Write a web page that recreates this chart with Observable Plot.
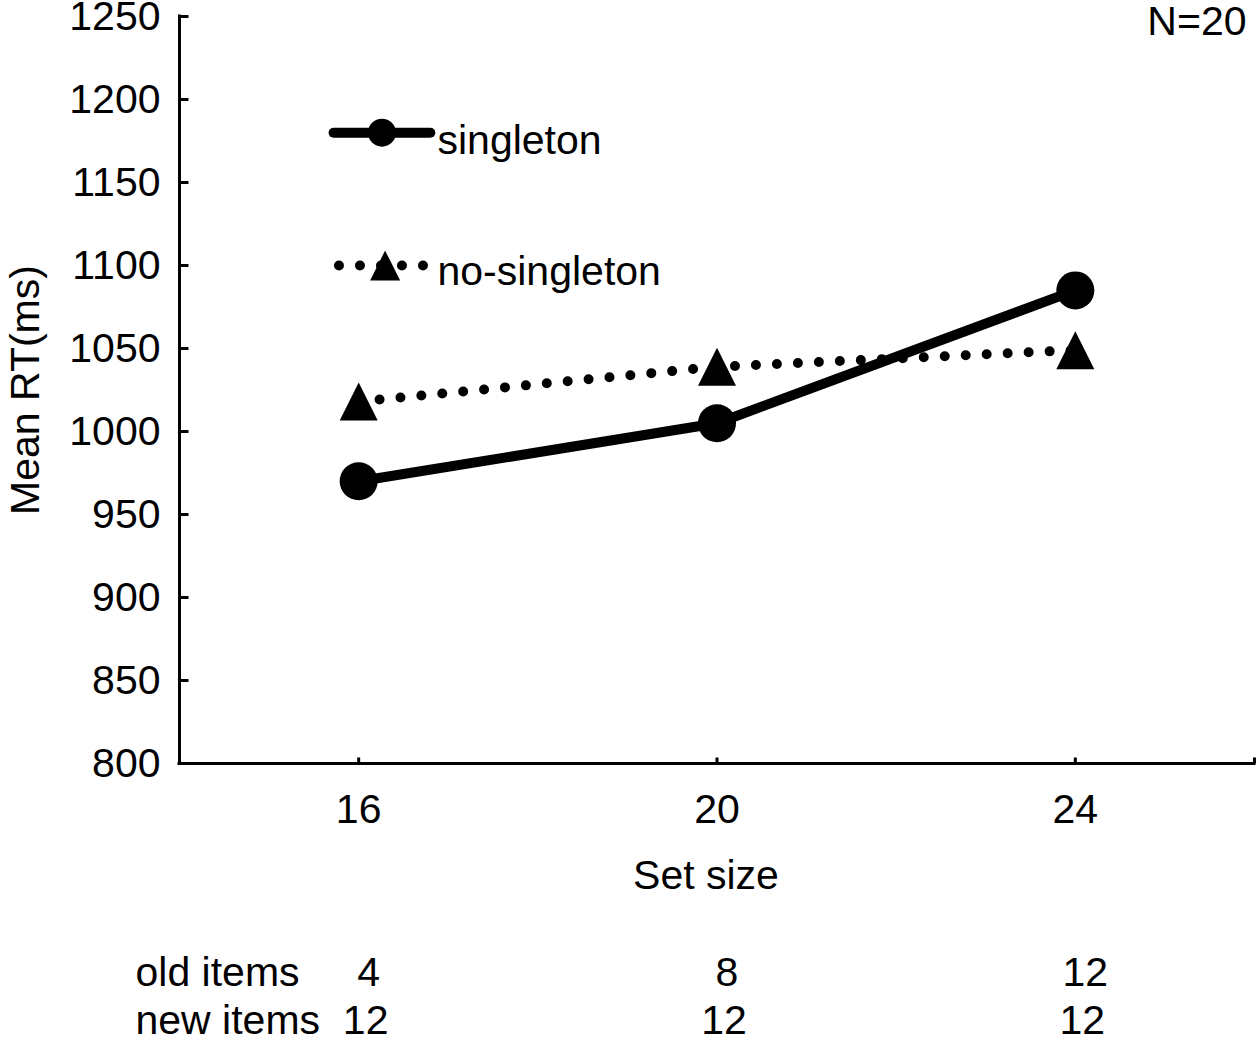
<!DOCTYPE html>
<html>
<head>
<meta charset="utf-8">
<script src="https://cdn.jsdelivr.net/npm/d3@7"></script>
<script src="https://cdn.jsdelivr.net/npm/@observablehq/plot@0.6"></script>
<style>
  html, body { margin: 0; padding: 0; background: #fff; overflow: hidden; }
  #chart svg { display: block; }
</style>
</head>
<body>
<div id="chart"></div>
<script>
// ---- data ----
const setSizes = [16, 20, 24];
const singletonRT = [970, 1005, 1085];
const noSingletonRT = [1018, 1039, 1049];
const oldItems = [4, 8, 12];
const newItems = [12, 12, 12];
const seriesNames = ["singleton", "no-singleton"];
const yTicks = [800, 850, 900, 950, 1000, 1050, 1100, 1150, 1200, 1250];
const xTickLabels = [16, 20, 24];
const xTickMarks = [16, 20, 24, 26];
const yLabel = "Mean RT(ms)";
const xLabel = "Set size";
const nLabel = "N=20";
const rowLabels = ["old items", "new items"];

// ---- layout (not data) ----
const legendLayout = { x1: 15.72, x2: 16.80, xNo1: 15.78, xNo2: 16.73, xText: 16.88, ySingleton: 1180, yNo: 1100 };
const FONT = "Liberation Sans, Arial, Helvetica, sans-serif";
const FS = 41;

const rows = setSizes.map((s, i) => ({
  setSize: s, singleton: singletonRT[i], noSingleton: noSingletonRT[i],
  oldItems: oldItems[i], newItems: newItems[i]
}));

const tallTriangle = {
  draw(ctx, size) {
    const r = Math.sqrt(size / Math.PI);
    ctx.moveTo(0, -r);
    ctx.lineTo(r, r);
    ctx.lineTo(-r, r);
    ctx.closePath();
  }
};
// inward tick marks drawn as symbols
const tickRight = { draw(ctx) { ctx.moveTo(0, 0); ctx.lineTo(9, 0); } };
const tickUp = { draw(ctx) { ctx.moveTo(0, 0); ctx.lineTo(0, -6); } };

const legSingleLine = [
  {x: legendLayout.x1, y: legendLayout.ySingleton},
  {x: legendLayout.x2, y: legendLayout.ySingleton}
];
const legNoLine = [
  {x: legendLayout.xNo1, y: legendLayout.yNo},
  {x: legendLayout.xNo2, y: legendLayout.yNo}
];
const legMid = (a, b) => (a + b) / 2;

const chart = Plot.plot({
  width: 1259,
  height: 1042,
  marginLeft: 179,
  marginRight: 5,
  marginTop: 16,
  marginBottom: 279,
  x: {domain: [14, 26]},
  y: {domain: [800, 1250]},
  style: {fontFamily: FONT, fontSize: FS + "px", color: "black", background: "white", overflow: "visible"},
  marks: [
    // axes
    Plot.axisY({ticks: yTicks, tickSize: 0, tickPadding: 19, fontSize: FS, label: null, tickFormat: d3.format("d")}),
    Plot.axisX({ticks: xTickLabels, tickSize: 0, tickPadding: 30, fontSize: FS, label: null, tickFormat: d3.format("d")}),
    Plot.dot(yTicks, {x: () => 14, y: d => d, symbol: tickRight, r: 5, fill: "none", stroke: "black", strokeWidth: 3}),
    Plot.dot(xTickMarks, {x: d => d, y: () => 800, symbol: tickUp, r: 5, fill: "none", stroke: "black", strokeWidth: 3}),
    Plot.ruleX([14], {y1: 800, y2: 1250, strokeWidth: 3, strokeLinecap: "square"}),
    Plot.ruleY([800], {x1: 14, x2: 26, strokeWidth: 3, strokeLinecap: "square"}),

    // series
    Plot.line(rows, {x: "setSize", y: "noSingleton", stroke: "black", strokeWidth: 10,
      strokeDasharray: "0 21", strokeLinecap: "round"}),
    Plot.line(rows, {x: "setSize", y: "singleton", stroke: "black", strokeWidth: 10}),
    Plot.dot(rows, {x: "setSize", y: "singleton", r: 19, fill: "black", stroke: null}),
    Plot.dot(rows, {x: "setSize", y: "noSingleton", r: 19, symbol: tallTriangle, fill: "black", stroke: null}),

    // legend
    Plot.line(legSingleLine, {x: "x", y: "y", stroke: "black", strokeWidth: 10}),
    Plot.dot([legSingleLine], {x: d => legMid(d[0].x, d[1].x), y: d => d[0].y, r: 14, fill: "black", stroke: null}),
    Plot.text([seriesNames[0]], {x: legendLayout.xText, y: legendLayout.ySingleton, dy: 8, textAnchor: "start", fontSize: FS}),
    Plot.line(legNoLine, {x: "x", y: "y", stroke: "black", strokeWidth: 10, strokeDasharray: "0 21", strokeLinecap: "round"}),
    Plot.dot([legNoLine], {x: d => legMid(d[0].x, d[1].x) + 0.04, y: d => d[0].y, r: 15, symbol: tallTriangle, fill: "black", stroke: null}),
    Plot.text([seriesNames[1]], {x: legendLayout.xText, y: legendLayout.yNo, dy: 6, textAnchor: "start", fontSize: FS}),

    // labels
    Plot.text([yLabel], {frameAnchor: "left", dx: -154, rotate: -90, textAnchor: "middle", lineAnchor: "middle", fontSize: FS}),
    Plot.text([xLabel], {frameAnchor: "bottom", dx: -11, dy: 96, lineAnchor: "top", fontSize: FS}),
    Plot.text([nLabel], {frameAnchor: "top-right", dx: -8, dy: 5, textAnchor: "end", lineAnchor: "middle", fontSize: FS}),

    // bottom table
    Plot.text([rowLabels[0]], {frameAnchor: "bottom-left", dx: -44, dy: 209, textAnchor: "start", lineAnchor: "middle", fontSize: FS}),
    Plot.text([rowLabels[1]], {frameAnchor: "bottom-left", dx: -44, dy: 257, textAnchor: "start", lineAnchor: "middle", fontSize: FS}),
    Plot.text(rows, {x: "setSize", text: d => String(d.oldItems), frameAnchor: "bottom", dx: 10, dy: 209, lineAnchor: "middle", fontSize: FS}),
    Plot.text(rows, {x: "setSize", text: d => String(d.newItems), frameAnchor: "bottom", dx: 7, dy: 257, lineAnchor: "middle", fontSize: FS})
  ]
});

document.getElementById("chart").appendChild(chart);
</script>
</body>
</html>
